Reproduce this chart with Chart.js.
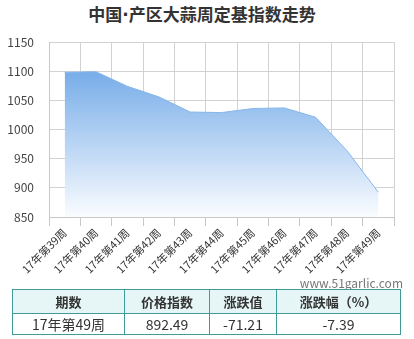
<!DOCTYPE html>
<html>
<head>
<meta charset="utf-8">
<script src="https://cdn.jsdelivr.net/npm/chart.js@4/dist/chart.umd.min.js"></script>
<style>
  html, body { margin: 0; padding: 0; background: #fff; }
  body { width: 414px; height: 339px; position: relative; overflow: hidden;
         font-family: "Noto Sans CJK SC", "Noto Sans", sans-serif; color: #333; }
  #title { position: absolute; left: 0; top: 2px; width: 404px; text-align: center;
           font-size: 17px; font-weight: bold; color: #333; line-height: 24px; }
  #title .dot { font-family: "DejaVu Sans", sans-serif; }
  #wrap { position: absolute; left: 0; top: 0; width: 414px; height: 285px; }
  #mark { position: absolute; right: 11px; top: 274px; font-size: 12px; color: #777; }
  table { position: absolute; left: 12px; top: 289px; border-collapse: collapse;
          font-size: 13px; color: #333; }
  td, th { border: 1px solid #3f9a9a; text-align: center; padding: 0; }
  th { background: #e6f6f6; height: 23px; font-weight: bold; }
  td { height: 20px; font-size: 14px; }
</style>
</head>
<body>
<div id="title">中国<span class="dot">·</span>产区大蒜周定基指数走势</div>
<div id="wrap"><canvas id="chart"></canvas></div>
<div id="mark">www.51garlic.com</div>
<table>
  <tr><th style="width:111px">期数</th><th style="width:84px">价格指数</th><th style="width:66px">涨跌值</th><th style="width:123px">涨跌幅（%）</th></tr>
  <tr><td>17年第49周</td><td>892.49</td><td>-71.21</td><td>-7.39</td></tr>
</table>
<script>
  // 周期
  const weeks = ['17年第39周', '17年第40周', '17年第41周', '17年第42周', '17年第43周', '17年第44周',
                 '17年第45周', '17年第46周', '17年第47周', '17年第48周', '17年第49周'];
  // 定基指数
  const indexValues = [1098, 1099, 1074, 1056, 1030, 1029, 1036, 1037, 1021, 963.70, 892.49];
  // y轴刻度
  const yTicks = [850, 900, 950, 1000, 1050, 1100, 1150];

  const font = { family: '"Noto Sans CJK SC", "Noto Sans", sans-serif' };

  function areaFill(context) {
    const area = context.chart.chartArea;
    if (!area) return 'rgba(120,175,235,0.8)';
    const g = context.chart.ctx.createLinearGradient(0, area.top + 28, 0, area.bottom);
    g.addColorStop(0, 'rgba(118,172,232,1)');
    g.addColorStop(1, 'rgba(250,252,255,1)');
    return g;
  }

  new Chart(document.getElementById('chart'), {
    type: 'line',
    data: {
      labels: weeks,
      datasets: [{
        data: indexValues,
        fill: 'start',
        backgroundColor: areaFill,
        borderColor: '#86b6ea',
        borderWidth: 1,
        pointRadius: 0,
        tension: 0
      }]
    },
    options: {
      responsive: true,
      maintainAspectRatio: false,
      animation: false,
      layout: { padding: { top: 42, right: 20, left: 0, bottom: 0 } },
      plugins: { legend: { display: false }, tooltip: { enabled: false } },
      scales: {
        x: {
          offset: true,
          grid: { offset: true, color: '#d2d2d2', tickLength: 9, tickColor: '#c8c8c8' },
          border: { color: '#c8c8c8' },
          ticks: { color: '#333', font: { ...font, size: 11 }, minRotation: 45, maxRotation: 45, padding: 0 },
          afterFit: (s) => { s.height = 68; }
        },
        y: {
          min: 850,
          max: 1150,
          afterBuildTicks: (s) => { s.ticks = yTicks.map(v => ({ value: v })); },
          grid: { color: '#d2d2d2', drawTicks: false },
          border: { color: '#c8c8c8' },
          ticks: { color: '#444', font: { ...font, size: 12 }, padding: 15, callback: (v) => String(v) },
          afterFit: (s) => { s.width = 49; }
        }
      }
    }
  });
</script>
</body>
</html>
